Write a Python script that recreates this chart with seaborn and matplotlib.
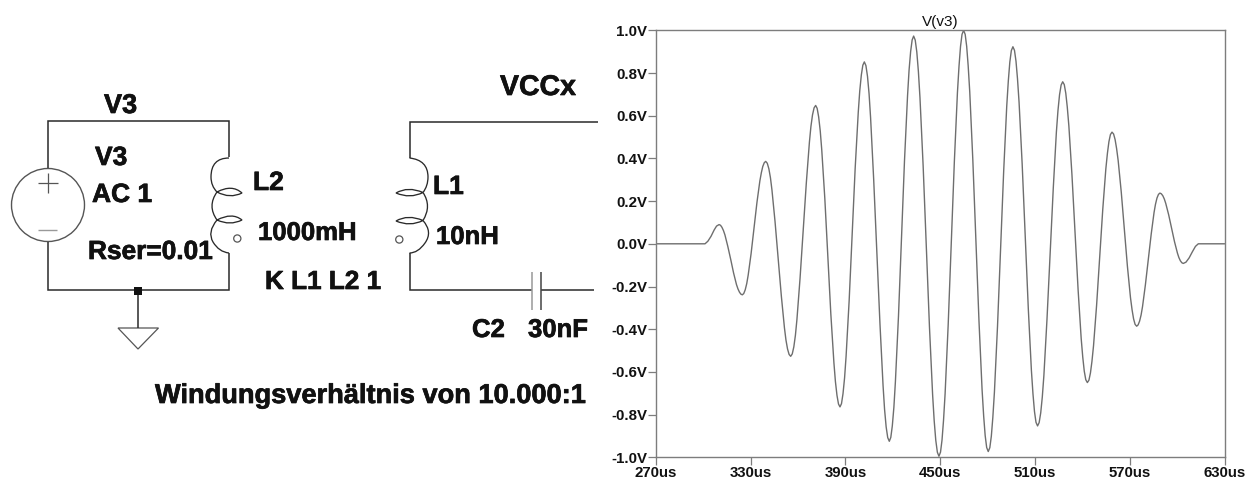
import matplotlib
matplotlib.use("Agg")
import matplotlib.pyplot as plt
import matplotlib.patheffects as pe
from matplotlib.path import Path
from matplotlib.patches import PathPatch, Circle, Polygon, Rectangle
import seaborn as sns

# --- data ---
time_us = [270, 301.2, 303, 305, 307, 308.5, 310.1,
    311.0, 311.9, 312.85, 313.8, 315.6, 317.5, 319.3, 321.1, 322.05, 323.0, 323.9, 324.8,
    325.7, 326.65, 327.6, 328.5, 330.35, 332.2, 334.05, 335.9, 336.85, 337.75, 338.7, 339.6,
    340.6, 341.6, 342.6, 343.55, 345.5, 347.5, 349.5, 351.45, 352.4, 353.4, 354.4, 355.4,
    356.4, 357.4, 358.4, 359.35, 361.3, 363.3, 365.3, 367.25, 368.2, 369.2, 370.2, 371.2,
    372.15, 373.1, 374.1, 375.05, 377, 378.9, 380.8, 382.75, 383.7, 384.7, 385.65, 386.6,
    387.55, 388.5, 389.5, 390.45, 392.4, 394.3, 396.2, 398.15, 399.1, 400.1, 401.05, 402,
    403, 404, 405, 405.95, 407.9, 409.9, 411.9, 413.85, 414.8, 415.8, 416.8, 417.8,
    418.75, 419.7, 420.7, 421.65, 423.6, 425.5, 427.4, 429.35, 430.3, 431.3, 432.25, 433.2,
    434.2, 435.2, 436.2, 437.2, 439.2, 441.2, 443.2, 445.2, 446.2, 447.2, 448.2, 449.2,
    450.2, 451.15, 452.1, 453.1, 455.05, 457, 458.95, 460.9, 461.9, 462.85, 463.8, 464.8,
    465.8, 466.75, 467.7, 468.7, 470.65, 472.6, 474.55, 476.5, 477.5, 478.45, 479.4, 480.4,
    481.4, 482.35, 483.3, 484.3, 486.25, 488.2, 490.15, 492.1, 493.1, 494.05, 495, 496,
    497, 497.95, 498.9, 499.9, 501.85, 503.8, 505.75, 507.7, 508.7, 509.65, 510.6, 511.6,
    512.6, 513.6, 514.6, 515.6, 517.55, 519.55, 521.55, 523.5, 524.5, 525.5, 526.5, 527.5,
    528.5, 529.45, 530.4, 531.4, 533.35, 535.3, 537.25, 539.2, 540.2, 541.15, 542.1, 543.1,
    544.1, 545.05, 546, 547, 548.95, 550.9, 552.85, 554.8, 555.8, 556.75, 557.7, 558.7,
    559.7, 560.65, 561.6, 562.6, 564.55, 566.5, 568.45, 570.4, 571.4, 572.35, 573.3, 574.3,
    575.2, 576.15, 577.1, 578, 579.8, 581.65, 583.5, 585.3, 586.2, 587.15, 588.1, 589,
    589.9, 590.85, 591.8, 592.7, 594.55, 596.4, 598.25, 600.1, 601, 601.95, 602.9, 603.8,
    605.5, 607.5, 609.5, 611.5, 613.3, 630]
v_v3 = [0, 0, .012, .035, .065, .083, .09,
    .0868, .0775, .0623, .0418, -.0115, -.0745, -.1375, -.1908, -.2113, -.2265, -.2358, -.239,
    -.233, -.2153, -.1863, -.1474, -.0462, .0735, .1932, .2944, .3333, .3623, .38, .386,
    .3772, .3513, .3091, .2522, .1043, -.0705, -.2453, -.3932, -.4501, -.4923, -.5182, -.527,
    -.5157, -.4824, -.428, -.3549, -.1645, .0605, .2855, .4759, .549, .6034, .6367, .648,
    .6344, .5943, .529, .4411, .2124, -.058, -.3284, -.5571, -.645, -.7103, -.7504, -.764,
    -.7485, -.7026, -.6279, -.5273, -.2655, .044, .3535, .6153, .7159, .7906, .8365, .852,
    .8349, .7845, .7023, .5917, .3038, -.0365, -.3768, -.6647, -.7753, -.8575, -.9079, -.925,
    -.9068, -.8529, -.7651, -.6469, -.3395, .024, .3875, .6949, .8131, .9009, .9548, .973,
    .9541, .8982, .8072, .6847, .3659, -.011, -.3879, -.7067, -.8292, -.9202, -.9761, -.995,
    -.9758, -.9192, -.8269, -.7027, -.3795, .0025, .3845, .7077, .8319, .9242, .9808, 1.0,
    .9811, .925, .8338, .711, .3913, .0135, -.3643, -.684, -.8068, -.898, -.9541, -.973,
    -.9548, -.901, -.8133, -.6952, -.3881, -.025, .3381, .6452, .7633, .851, .9048, .923,
    .906, .8555, .7734, .6628, .3751, .035, -.3051, -.5928, -.7034, -.7855, -.836, -.853,
    -.8375, -.7917, -.7172, -.6168, -.3557, -.047, .2617, .5228, .6232, .6977, .7435, .759,
    .7455, .7055, .6403, .5526, .3243, .0545, -.2153, -.4436, -.5313, -.5965, -.6365, -.65,
    -.6387, -.6054, -.5512, -.4782, -.2881, -.0635, .1611, .3512, .4242, .4784, .5117, .523,
    .5143, .4885, .4464, .3898, .2426, .0685, -.1056, -.2528, -.3094, -.3515, -.3773, -.386,
    -.38, -.3623, -.3334, -.2946, -.1935, -.074, .0455, .1466, .1849, .2143, .2315, .2375,
    .2343, .2251, .2097, .1893, .1359, .0728, .0097, -.0437, -.0642, -.0795, -.0888, -.092,
    -.086, -.066, -.038, -.012, 0, 0]
x_ticks = [270, 330, 390, 450, 510, 570, 630]
x_tick_labels = ["270us", "330us", "390us", "450us", "510us", "570us", "630us"]
y_ticks = [1.0, 0.8, 0.6, 0.4, 0.2, 0.0, -0.2, -0.4, -0.6, -0.8, -1.0]
y_tick_labels = ["1.0V", "0.8V", "0.6V", "0.4V", "0.2V", "0.0V", "-0.2V", "-0.4V", "-0.6V", "-0.8V", "-1.0V"]
plot_title = "V(v3)"

schematic_labels = ["V3", "V3", "AC 1", "Rser=0.01", "L2", "1000mH", "K L1 L2 1",
                    "L1", "10nH", "VCCx", "C2", "30nF", "Windungsverhältnis von 10.000:1"]
label_left_px = [104, 95, 92, 88, 253, 258, 265, 433, 436, 500, 472, 528, 155]
label_mid_px = [106, 158, 195, 252, 183, 233, 282, 187, 237, 88, 330, 330, 396]
label_size_pt = [19.5, 19, 19, 18.9, 19, 18.5, 18.8, 19, 18.5, 20.5, 18.5, 18.5, 19.6]

# --- styling ---
W, H = 1245, 480
sns.set_theme(style="white")
plt.rcParams["font.family"] = ["Liberation Sans", "DejaVu Sans"]
INK = "#2a2a2a"
GREY = "#7d7d7d"
TXT = "#111111"

fig = plt.figure(figsize=(W / 100, H / 100), dpi=100, facecolor="white")

# --- schematic, drawn on a full-figure pixel canvas ---
sc = fig.add_axes([0, 0, 1, 1])
sc.set_xlim(0, W)
sc.set_ylim(H, 0)
sc.axis("off")

def wire(xs, ys, c=INK, lw=1.1):
    sc.plot(xs, ys, color=c, lw=lw, solid_capstyle="butt", solid_joinstyle="miter")

def curve(points, c=INK, lw=0.95):
    codes = [Path.MOVETO] + [Path.CURVE3] * (len(points) - 1)
    sc.add_patch(PathPatch(Path(points, codes), fc="none", ec=c, lw=lw))

wire([48, 48, 229, 229], [168, 121, 121, 157])
wire([48, 48, 229, 229], [242, 290, 290, 253])
sc.add_patch(Circle((48, 205), 36.5, fc="none", ec="#555555", lw=1.0))
wire([38, 58], [183, 183], c="#555555", lw=0.9)
wire([48, 48], [173, 193], c="#555555", lw=0.9)
wire([38, 57], [230, 230], c="#999999", lw=1.0)

# left inductor
curve([(229, 158), (211, 158), (211, 177), (211, 186), (217, 192)])
curve([(217, 192), (232, 184), (242, 193), (230, 199), (217, 192)])
curve([(217, 192), (207, 206), (217, 220)])
curve([(217, 220), (232, 212), (242, 220), (230, 226), (217, 220)])
curve([(217, 220), (207, 232), (213, 242), (219, 252), (229, 253)])
sc.add_patch(Circle((237.3, 238.5), 3.6, fc="none", ec="#555555", lw=0.9))

# ground
sc.add_patch(Rectangle((133.5, 286.5), 8, 8, fc="#111111", ec="none", zorder=3))
wire([137.5, 137.5], [290, 328])
sc.add_patch(Polygon([(118, 328), (158.5, 328), (138, 349)], closed=True, fc="none", ec="#555555", lw=0.9))

# right inductor and capacitor
wire([598, 409.5, 409.5], [121.5, 121.5, 158])
wire([409.5, 409.5, 531.5], [253, 290, 290])
wire([541, 594], [290, 290])
wire([531.5, 531.5], [272, 310], c="#999999")
wire([541, 541], [272, 310], c="#444444")
curve([(409.5, 158), (428, 160), (428, 177), (428, 186), (423, 192.5)])
curve([(423, 192.5), (408, 186), (396, 193), (410, 199), (423, 192.5)])
curve([(423, 192.5), (432, 206), (423, 220.5)])
curve([(423, 220.5), (408, 214), (396, 221), (410, 227), (423, 220.5)])
curve([(423, 220.5), (433, 232), (425, 243), (418, 253), (409.5, 253)])
sc.add_patch(Circle((399.3, 239.5), 3.6, fc="none", ec="#555555", lw=0.9))

for s, x, y, fs in zip(schematic_labels, label_left_px, label_mid_px, label_size_pt):
    sc.text(x, y, s, ha="left", va="center", fontsize=fs, fontweight="bold", color=TXT,
            path_effects=[pe.withStroke(linewidth=0.5, foreground=TXT)])

# --- transient plot ---
L, R, T, B = 655.7, 1224.7, 30.3, 457.3
ax = fig.add_axes([L / W, 1 - B / H, (R - L) / W, (B - T) / H])
ax.patch.set_alpha(0)
sns.lineplot(x=time_us, y=v_v3, ax=ax, color="#6e6e6e", lw=1.0, estimator=None, sort=False)
ax.set_xlim(270, 630)
ax.set_ylim(-1.0, 1.0)
ax.set_xlabel("")
ax.set_ylabel("")
ax.set_xticks(x_ticks)
ax.set_xticklabels(x_tick_labels)
ax.set_yticks(y_ticks)
ax.set_yticklabels(y_tick_labels)
ax.tick_params(axis="both", direction="out", length=5.5, width=0.9, color=GREY, pad=0.5,
               labelsize=10.8, labelcolor=TXT, bottom=True, left=True)
for lab in ax.get_xticklabels() + ax.get_yticklabels():
    lab.set_fontweight("bold")
for sp in ax.spines.values():
    sp.set_color(GREY)
    sp.set_linewidth(1.0)
ax.set_title(plot_title, fontsize=11, color=TXT, pad=3)

fig.savefig("out.png", dpi=100, facecolor="white")
